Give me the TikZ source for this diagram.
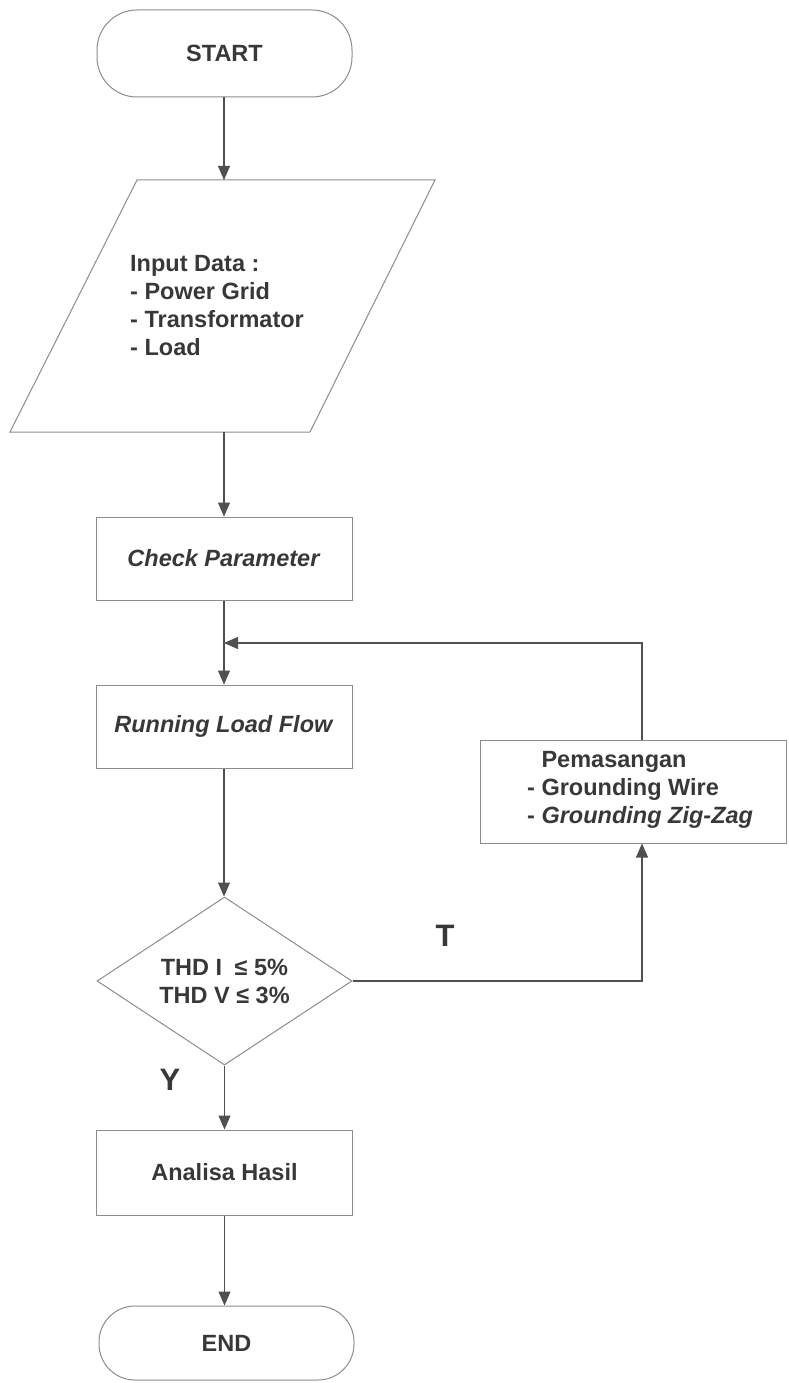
\documentclass[tikz,border=0pt]{standalone}
\usepackage{fontspec}
\setmainfont{Liberation Sans}
\usetikzlibrary{arrows.meta,shapes.geometric,calc}
\definecolor{linec}{HTML}{8C8C8C}
\definecolor{arrc}{HTML}{505050}
\definecolor{txtc}{HTML}{383838}
\begin{document}
\begin{tikzpicture}[x=1pt,y=-1pt,
  every node/.style={font=\fontsize{23.5}{28}\selectfont\bfseries, text=txtc, inner sep=0pt},
  outline/.style={draw=linec, line width=1pt},
  procbox/.style={outline, rectangle, minimum width=256pt, minimum height=84pt},
  term/.style={outline, rectangle, rounded corners=40pt, minimum width=255pt, minimum height=87pt},
  flow/.style={draw=arrc, line width=1.1pt, -{Triangle[length=14pt,width=12pt]}},
  lbl/.style={font=\fontsize{31}{34}\selectfont\bfseries}
]
\useasboundingbox (0,0) rectangle (789,1383);

% terminals
\node[term] (start) at (224.5,53.5) {START};
\node[term, minimum height=74pt, rounded corners=36pt] (end) at (226.5,1343) {END};

% input parallelogram
\draw[outline] (137,180) -- (435,180) -- (310,432) -- (10,432) -- cycle;
\coordinate (intop) at (224,180);
\coordinate (inbot) at (224,432);
\node[align=left, anchor=west] (intext) at (130,305.5)
  {Input Data :\\- Power Grid\\- Transformator\\- Load};

% process boxes
\node[procbox, minimum height=83pt] (check) at (224,558.5) {\textit{Check Parameter}};
\node[procbox, minimum height=83pt] (rlf) at (224,726.5) {\textit{Running Load Flow}};
\node[procbox, minimum height=85pt] (ana) at (224.5,1172.5) {Analisa Hasil};

% decision
\node[outline, diamond, aspect=1.52, minimum width=255pt, minimum height=168pt,
      align=center] (dec) at (224.5,981) {THD I\hspace{6pt} ≤ 5\%\\THD V ≤ 3\%};

% remedy box
\node[procbox, minimum width=306pt, minimum height=103pt] (pem) at (633,791.5) {};
\node[align=left, anchor=west] (pemtext) at (527,790)
  {\hphantom{- }Pemasangan\\- Grounding Wire\\- \textit{Grounding Zig-Zag}};

% labels
\node[lbl] (tlab) at (445,936) {T};
\node[lbl] (ylab) at (170,1080) {Y};

% connectors
\coordinate (join) at (224,643);
\draw[flow] (start.south -| intop) -- (intop);
\draw[flow] (inbot) -- (inbot |- check.north);
\draw[flow] (check.south) -- (rlf.north);
\draw[flow] ([xshift=9pt]pem.north) |- (join);
\draw[flow] (rlf.south) -- (rlf.south |- dec.north);
\draw[flow] (dec.east) -| ([xshift=9pt]pem.south);
\draw[flow] (dec.south) -- (dec.south |- ana.north);
\draw[flow] (ana.south) -- (ana.south |- end.north);
\end{tikzpicture}
\end{document}
